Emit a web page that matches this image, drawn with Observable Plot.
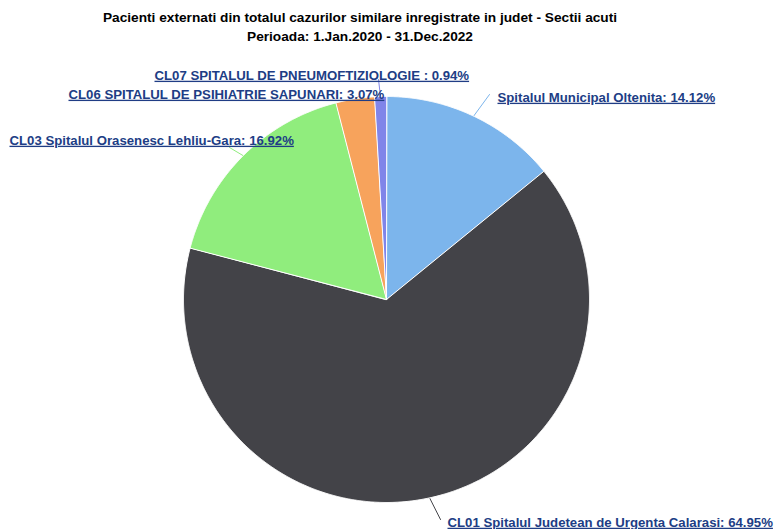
<!DOCTYPE html>
<html><head><meta charset="utf-8">
<script src="https://cdn.jsdelivr.net/npm/d3@7"></script>
<script src="https://cdn.jsdelivr.net/npm/@observablehq/plot@0.6"></script>
<style>
body{margin:0;background:#fff;}
#title{width:720px;height:48px;padding-top:8px;box-sizing:border-box;text-align:center;font:bold 13.7px "Liberation Sans",Arial,sans-serif;line-height:19px;color:#000;white-space:nowrap;}
#chart text{text-decoration:underline;}
</style></head><body>
<div id="title">Pacienti externati din totalul cazurilor similare inregistrate in judet - Sectii acuti<br>Perioada: 1.Jan.2020 - 31.Dec.2022</div>
<div id="chart"></div>
<script>
// ---- data ----
const names = [
  "Spitalul Municipal Oltenita",
  "CL01 Spitalul Judetean de Urgenta Calarasi",
  "CL03 Spitalul Orasenesc Lehliu-Gara",
  "CL06 SPITALUL DE PSIHIATRIE SAPUNARI",
  "CL07 SPITALUL DE PNEUMOFTIZIOLOGIE "
];
const shares = [14.12, 64.95, 16.92, 3.07, 0.94];
const colors = ["#7cb5ec", "#434348", "#90ed7d", "#f7a35c", "#8085e9"];

// ---- layout (page pixels) ----
const CX = 386, CY = 299, R = 203, TOP = 48;
const labelAt = [[497, 97], [447, 522], [9, 140], [68, 94], [154, 75]];
const connEnd = [[489, 94], [440, 519], [229, 147], [358, 96], [378, 79]];
const px = p => (p - CX) / R, py = p => (p - CY) / R;

// ---- geometry ----
const total = d3.sum(shares);
let cum = 0;
const slices = names.map((name, i) => {
  const a0 = cum / total * 2 * Math.PI;
  cum += shares[i];
  const a1 = cum / total * 2 * Math.PI;
  return {name, a0, a1, mid: (a0 + a1) / 2};
});
const poly = [];
for (const s of slices) {
  poly.push({name: s.name, x: 0, y: 0});
  const n = Math.max(2, Math.ceil((s.a1 - s.a0) / 0.005));
  for (let k = 0; k <= n; k++) {
    const a = s.a0 + (s.a1 - s.a0) * k / n;
    poly.push({name: s.name, x: Math.sin(a), y: -Math.cos(a)});
  }
}
const conns = [];
slices.forEach((s, i) => {
  conns.push({name: s.name, x: Math.sin(s.mid), y: -Math.cos(s.mid)});
  conns.push({name: s.name, x: px(connEnd[i][0]), y: py(connEnd[i][1])});
});
const labels = slices.map((s, i) => ({
  name: s.name,
  text: `${s.name}: ${shares[i].toFixed(2)}%`,
  x: px(labelAt[i][0]), y: py(labelAt[i][1])
}));

const H = 529 - TOP;
const chart = Plot.plot({
  width: 775, height: H,
  margin: 0,
  x: {axis: null, domain: [px(0), px(775)], range: [0, 775]},
  y: {axis: null, domain: [py(TOP), py(529)], range: [0, H]},
  color: {domain: names, range: colors},
  style: {background: "#fff"},
  marks: [
    Plot.line(conns, {x: "x", y: "y", z: "name", stroke: "name", strokeWidth: 1, curve: "linear"}),
    Plot.line(poly, {x: "x", y: "y", z: "name", fill: "name", stroke: "#fff", strokeWidth: 1, strokeLinejoin: "round", curve: "linear-closed"}),
    Plot.text(labels, {x: "x", y: "y", text: "text", textAnchor: "start", fill: "#203d85",
      fontSize: 13.2, fontWeight: "bold", fontFamily: "Liberation Sans, Arial, sans-serif"})
  ]
});
document.getElementById("chart").appendChild(chart);
</script>
</body></html>
